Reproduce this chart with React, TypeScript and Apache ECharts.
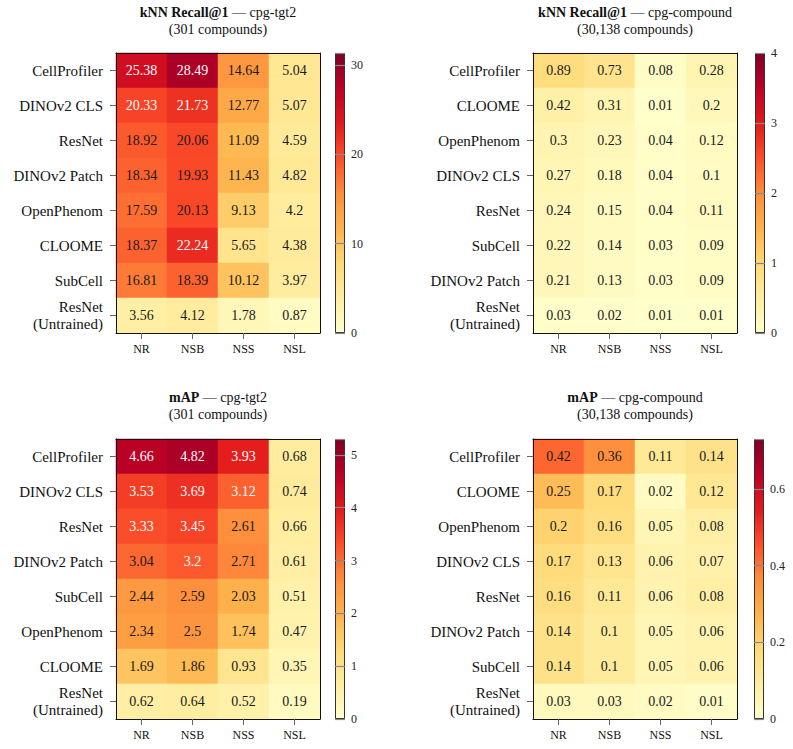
import React, { useEffect, useRef } from 'react';
import * as echarts from 'echarts';

const columns = ['NR', 'NSB', 'NSS', 'NSL'];

const knnTgt2Models = ['CellProfiler', 'DINOv2 CLS', 'ResNet', 'DINOv2 Patch', 'OpenPhenom', 'CLOOME', 'SubCell', 'ResNet\n(Untrained)'];
const knnTgt2Values = [
  [25.38, 28.49, 14.64, 5.04],
  [20.33, 21.73, 12.77, 5.07],
  [18.92, 20.06, 11.09, 4.59],
  [18.34, 19.93, 11.43, 4.82],
  [17.59, 20.13, 9.13, 4.2],
  [18.37, 22.24, 5.65, 4.38],
  [16.81, 18.39, 10.12, 3.97],
  [3.56, 4.12, 1.78, 0.87],
];

const knnCompoundModels = ['CellProfiler', 'CLOOME', 'OpenPhenom', 'DINOv2 CLS', 'ResNet', 'SubCell', 'DINOv2 Patch', 'ResNet\n(Untrained)'];
const knnCompoundValues = [
  [0.89, 0.73, 0.08, 0.28],
  [0.42, 0.31, 0.01, 0.2],
  [0.3, 0.23, 0.04, 0.12],
  [0.27, 0.18, 0.04, 0.1],
  [0.24, 0.15, 0.04, 0.11],
  [0.22, 0.14, 0.03, 0.09],
  [0.21, 0.13, 0.03, 0.09],
  [0.03, 0.02, 0.01, 0.01],
];

const mapTgt2Models = ['CellProfiler', 'DINOv2 CLS', 'ResNet', 'DINOv2 Patch', 'SubCell', 'OpenPhenom', 'CLOOME', 'ResNet\n(Untrained)'];
const mapTgt2Values = [
  [4.66, 4.82, 3.93, 0.68],
  [3.53, 3.69, 3.12, 0.74],
  [3.33, 3.45, 2.61, 0.66],
  [3.04, 3.2, 2.71, 0.61],
  [2.44, 2.59, 2.03, 0.51],
  [2.34, 2.5, 1.74, 0.47],
  [1.69, 1.86, 0.93, 0.35],
  [0.62, 0.64, 0.52, 0.19],
];

const mapCompoundModels = ['CellProfiler', 'CLOOME', 'OpenPhenom', 'DINOv2 CLS', 'ResNet', 'DINOv2 Patch', 'SubCell', 'ResNet\n(Untrained)'];
const mapCompoundValues = [
  [0.42, 0.36, 0.11, 0.14],
  [0.25, 0.17, 0.02, 0.12],
  [0.2, 0.16, 0.05, 0.08],
  [0.17, 0.13, 0.06, 0.07],
  [0.16, 0.11, 0.06, 0.08],
  [0.14, 0.1, 0.05, 0.06],
  [0.14, 0.1, 0.05, 0.06],
  [0.03, 0.03, 0.02, 0.01],
];

const YlOrRd = ['#ffffcc', '#ffeda0', '#fed976', '#feb24c', '#fd8d3c', '#fc4e2a', '#e31a1c', '#bd0026', '#800026'];
const FONT = '"Liberation Serif", "DejaVu Serif", serif';

const panels = [
  { metric: 'kNN Recall@1', dataset: 'cpg-tgt2', count: '(301 compounds)', models: knnTgt2Models, values: knnTgt2Values, vmax: 31.34, interval: 10, whiteAbove: 20.2, left: 116, top: 53, cbLeft: 335, cx: 218, ty: 4 },
  { metric: 'kNN Recall@1', dataset: 'cpg-compound', count: '(30,138 compounds)', models: knnCompoundModels, values: knnCompoundValues, vmax: 4, interval: 1, whiteAbove: 99, left: 533, top: 53, cbLeft: 755, cx: 635, ty: 4 },
  { metric: 'mAP', dataset: 'cpg-tgt2', count: '(301 compounds)', models: mapTgt2Models, values: mapTgt2Values, vmax: 5.3, interval: 1, whiteAbove: 3.1, left: 116, top: 439, cbLeft: 335, cx: 218, ty: 389 },
  { metric: 'mAP', dataset: 'cpg-compound', count: '(30,138 compounds)', models: mapCompoundModels, values: mapCompoundValues, vmax: 0.73, interval: 0.2, whiteAbove: 99, left: 533, top: 439, cbLeft: 754, cx: 635, ty: 389 },
];

const GRID_W = 204;
const GRID_H = 280;

function buildOption() {
  const grid: any[] = [];
  const xAxis: any[] = [];
  const yAxis: any[] = [];
  const series: any[] = [];
  const visualMap: any[] = [];
  const graphic: any[] = [];

  panels.forEach((p) => {
    const gHeat = grid.length;
    grid.push({ left: p.left, top: p.top, width: GRID_W, height: GRID_H, containLabel: false });
    const gCb = grid.length;
    grid.push({ left: p.cbLeft, top: p.top, width: 10, height: GRID_H, containLabel: false });

    const xMain = xAxis.length;
    xAxis.push({
      type: 'category', gridIndex: gHeat, data: columns, position: 'bottom', z: 10,
      axisLine: { show: true, lineStyle: { color: '#111', width: 1 } },
      axisTick: { show: true, alignWithLabel: true, length: 6, lineStyle: { color: '#666' } },
      axisLabel: { color: '#111', fontSize: 12, fontFamily: FONT, margin: 10 },
      splitLine: { show: false },
    });
    xAxis.push({
      type: 'category', gridIndex: gHeat, data: columns, position: 'top', z: 10,
      axisLine: { show: true, lineStyle: { color: '#111', width: 1 } },
      axisTick: { show: false }, axisLabel: { show: false }, splitLine: { show: false },
    });
    const xCb = xAxis.length;
    xAxis.push({ type: 'category', gridIndex: gCb, data: ['cb'], show: false });

    const yMain = yAxis.length;
    yAxis.push({
      type: 'category', gridIndex: gHeat, data: p.models, inverse: true, position: 'left', z: 10,
      axisLine: { show: true, lineStyle: { color: '#111', width: 1 } },
      axisTick: { show: true, alignWithLabel: true, length: 6, lineStyle: { color: '#666' } },
      axisLabel: { color: '#111', fontSize: 15, fontFamily: FONT, margin: 13, lineHeight: 17, align: 'right' },
      splitLine: { show: false },
    });
    yAxis.push({
      type: 'category', gridIndex: gHeat, data: p.models, inverse: true, position: 'right', z: 10,
      axisLine: { show: true, lineStyle: { color: '#111', width: 1 } },
      axisTick: { show: false }, axisLabel: { show: false }, splitLine: { show: false },
    });
    const yCb = yAxis.length;
    yAxis.push({
      type: 'value', gridIndex: gCb, position: 'right', min: 0, max: p.vmax, interval: p.interval, z: 10,
      axisLine: { show: false },
      axisTick: { show: true, inside: true, length: 10, lineStyle: { color: '#888', width: 1.2 } },
      axisLabel: {
        color: '#222', fontSize: 12, fontFamily: FONT, margin: 6,
        formatter: (v: number) => {
          const r = Math.round(v / p.interval);
          if (Math.abs(v / p.interval - r) > 1e-6) return '';
          return String(+(r * p.interval).toFixed(2));
        },
      },
      splitLine: { show: false },
    });

    const data: any[] = [];
    p.values.forEach((row, r) => {
      row.forEach((v, c) => {
        data.push({
          value: [c, r, v],
          label: { color: v > p.whiteAbove ? '#ffffff' : '#1a1a1a' },
        });
      });
    });
    const heatIdx = series.length;
    series.push({
      type: 'heatmap', xAxisIndex: xMain, yAxisIndex: yMain, data,
      label: { show: true, fontSize: 14, fontFamily: FONT, formatter: (q: any) => String(q.value[2]) },
      itemStyle: { borderWidth: 0 },
      emphasis: { disabled: true },
    });
    visualMap.push({
      type: 'continuous', show: false, min: 0, max: p.vmax, dimension: 2, seriesIndex: heatIdx,
      inRange: { color: YlOrRd },
    });
    series.push({
      type: 'bar', xAxisIndex: xCb, yAxisIndex: yCb, data: [p.vmax], barWidth: '100%', silent: true,
      itemStyle: {
        color: new echarts.graphic.LinearGradient(0, 1, 0, 0, YlOrRd.map((c, k) => ({ offset: k / (YlOrRd.length - 1), color: c }))),
        borderColor: '#333', borderWidth: 1,
      },
    });

    graphic.push({
      type: 'text', x: p.cx, y: p.ty,
      style: {
        text: `{b|${p.metric}} — ${p.dataset}\n${p.count}`,
        align: 'center', verticalAlign: 'top',
        fontFamily: FONT, fontSize: 14, lineHeight: 17, fill: '#111',
        rich: { b: { fontWeight: 'bold', fontFamily: FONT, fontSize: 14, lineHeight: 17, fill: '#111' } },
      },
    });
  });

  return { animation: false, backgroundColor: '#ffffff', grid, xAxis, yAxis, series, visualMap, graphic };
}

export default function App() {
  const ref = useRef<HTMLDivElement>(null);
  useEffect(() => {
    if (!ref.current) return;
    const chart = echarts.init(ref.current, null, { renderer: 'svg' });
    chart.setOption(buildOption() as any);
    return () => chart.dispose();
  }, []);
  return <div ref={ref} style={{ position: 'fixed', left: 0, top: 0, width: 793, height: 749, background: '#fff' }} />;
}
